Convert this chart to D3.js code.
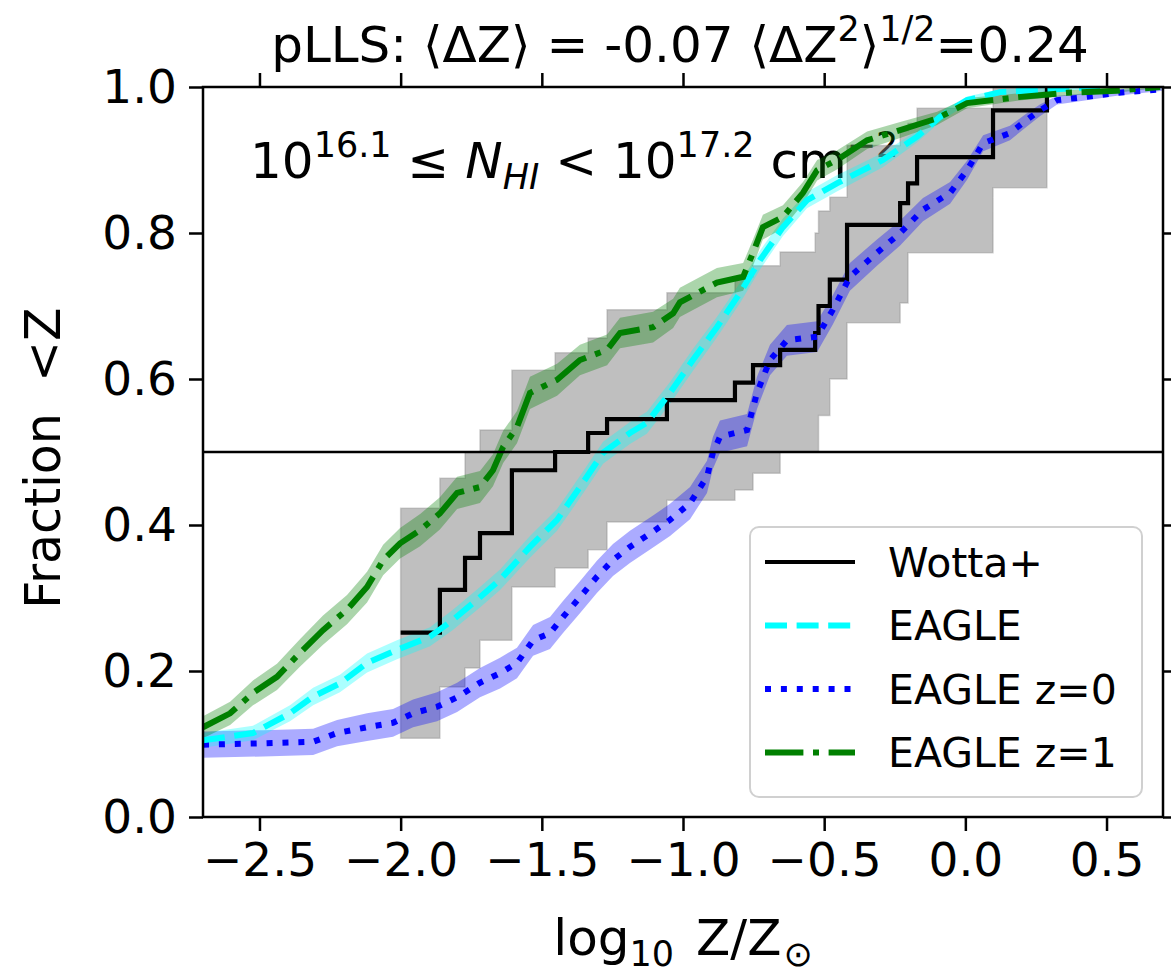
<!DOCTYPE html>
<html>
<head>
<meta charset="utf-8">
<script src="https://cdn.jsdelivr.net/npm/d3@7"></script>
<style>
  body { margin: 0; background: #fff; }
  svg text { font-family: "DejaVu Sans", sans-serif; fill: #000; }
</style>
</head>
<body>
<svg id="chart" width="1171" height="980"></svg>
<script>
// ---- Observed sample (Wotta+): step CDF with its uncertainty envelope ----
const wottaX  = [-2.0, -1.861, -1.772, -1.719, -1.606, -1.453, -1.336, -1.269, -1.057, -0.816, -0.752, -0.656, -0.532, -0.52, -0.48, -0.419, -0.231, -0.203, -0.171, 0.098, 0.289];
const wottaY  = [0.2525, 0.311, 0.355, 0.389, 0.475, 0.5, 0.526, 0.545, 0.571, 0.595, 0.619, 0.640, 0.663, 0.70, 0.736, 0.811, 0.841, 0.868, 0.904, 0.968, 1.0];
const wottaLo = [0.108, 0.178, 0.204, 0.242, 0.315, 0.341, 0.366, 0.404, 0.434, 0.448, 0.471, 0.5, 0.5, 0.55, 0.60, 0.677, 0.704, 0.773, 0.773, 0.862, 1.0];
const wottaHi = [0.423, 0.464, 0.5, 0.53, 0.612, 0.636, 0.656, 0.695, 0.718, 0.74, 0.755, 0.774, 0.80, 0.83, 0.849, 0.92, 0.94, 0.95, 0.971, 1.0, 1.0];

// ---- EAGLE (matched redshift) ----
const eagleX   = [-2.7, -2.523, -2.392, -2.310, -2.215, -2.119, -2.013, -1.896, -1.815, -1.719, -1.648, -1.542, -1.446, -1.365, -1.283, -1.188, -1.128, -1.046, -0.965, -0.880, -0.798, -0.727, -0.646, -0.561, -0.455, -0.292, -0.171, -0.090, 0.006, 0.123, 0.477];
const eagleY   = [0.105, 0.115, 0.142, 0.165, 0.183, 0.211, 0.229, 0.247, 0.270, 0.301, 0.325, 0.370, 0.407, 0.452, 0.499, 0.526, 0.540, 0.581, 0.626, 0.671, 0.718, 0.763, 0.808, 0.845, 0.868, 0.900, 0.932, 0.959, 0.982, 0.993, 1.0];
const eagleErr = [0.010, 0.010, 0.011, 0.012, 0.012, 0.013, 0.013, 0.013, 0.014, 0.014, 0.014, 0.015, 0.015, 0.015, 0.015, 0.015, 0.015, 0.015, 0.015, 0.014, 0.014, 0.013, 0.012, 0.011, 0.011, 0.010, 0.008, 0.007, 0.005, 0.004, 0.002];

// ---- EAGLE z=0 ----
const eagleZ0X   = [-2.7, -2.487, -2.310, -2.225, -2.119, -2.027, -1.956, -1.871, -1.800, -1.719, -1.648, -1.588, -1.531, -1.471, -1.425, -1.365, -1.305, -1.248, -1.188, -1.110, -1.046, -0.975, -0.915, -0.894, -0.869, -0.773, -0.738, -0.692, -0.632, -0.525, -0.469, -0.409, -0.313, -0.231, -0.150, -0.054, 0.006, 0.063, 0.158, 0.218, 0.264, 0.325, 0.417, 0.537, 0.70];
const eagleZ0Y   = [0.099, 0.101, 0.103, 0.115, 0.123, 0.129, 0.142, 0.151, 0.164, 0.184, 0.197, 0.211, 0.242, 0.252, 0.274, 0.301, 0.329, 0.352, 0.370, 0.390, 0.407, 0.430, 0.466, 0.499, 0.521, 0.530, 0.581, 0.626, 0.653, 0.658, 0.695, 0.740, 0.773, 0.800, 0.832, 0.855, 0.886, 0.923, 0.937, 0.955, 0.968, 0.982, 0.986, 0.992, 0.997];
const eagleZ0Err = [0.018, 0.018, 0.018, 0.018, 0.019, 0.019, 0.019, 0.020, 0.020, 0.020, 0.021, 0.021, 0.021, 0.022, 0.022, 0.022, 0.022, 0.022, 0.022, 0.022, 0.022, 0.022, 0.022, 0.022, 0.022, 0.022, 0.022, 0.021, 0.021, 0.021, 0.020, 0.019, 0.018, 0.017, 0.016, 0.015, 0.013, 0.011, 0.010, 0.009, 0.008, 0.006, 0.005, 0.004, 0.002];

// ---- EAGLE z=1 ----
const eagleZ1X   = [-2.7, -2.604, -2.523, -2.438, -2.356, -2.275, -2.190, -2.119, -2.062, -2.002, -1.931, -1.861, -1.800, -1.719, -1.673, -1.637, -1.588, -1.542, -1.446, -1.365, -1.269, -1.223, -1.106, -1.035, -1.011, -0.880, -0.787, -0.752, -0.717, -0.646, -0.575, -0.525, -0.455, -0.348, -0.231, -0.100, 0.006, 0.183, 0.360, 0.537, 0.69];
const eagleZ1Y   = [0.123, 0.142, 0.170, 0.192, 0.225, 0.256, 0.284, 0.315, 0.352, 0.375, 0.393, 0.416, 0.444, 0.452, 0.475, 0.507, 0.534, 0.581, 0.599, 0.626, 0.640, 0.663, 0.671, 0.690, 0.705, 0.732, 0.740, 0.773, 0.808, 0.822, 0.855, 0.886, 0.900, 0.927, 0.941, 0.957, 0.978, 0.986, 0.992, 0.995, 1.0];
const eagleZ1Err = [0.015, 0.016, 0.017, 0.018, 0.019, 0.020, 0.020, 0.021, 0.021, 0.021, 0.022, 0.022, 0.022, 0.022, 0.022, 0.022, 0.022, 0.022, 0.022, 0.021, 0.021, 0.021, 0.021, 0.020, 0.020, 0.020, 0.019, 0.018, 0.017, 0.016, 0.015, 0.014, 0.013, 0.012, 0.011, 0.009, 0.007, 0.005, 0.004, 0.003, 0.001];

// ---- Axes ----
const xDomain = [-2.7, 0.7];
const yDomain = [0, 1];
const xTicks = [-2.5, -2.0, -1.5, -1.0, -0.5, 0.0, 0.5];
const yTicks = [0.0, 0.2, 0.4, 0.6, 0.8, 1.0];
const medianLevel = 0.5;

const legendLabels = ["Wotta+", "EAGLE", "EAGLE z=0", "EAGLE z=1"];

// ---------------------------------------------------------------------------
const plot = { left: 203, right: 1163, top: 87, bottom: 817 };
const FS = 47;

const svg = d3.select("#chart");
const x = d3.scaleLinear(xDomain, [plot.left, plot.right]);
const y = d3.scaleLinear(yDomain, [plot.bottom, plot.top]);

svg.append("defs").append("clipPath").attr("id", "plotclip")
  .append("rect")
  .attr("x", plot.left).attr("y", plot.top)
  .attr("width", plot.right - plot.left).attr("height", plot.bottom - plot.top);

// rich text helper: parts = [{t, s:'sup'|'sub'|undefined, i:bool, dx}]
function richText(g, parts, fs, attrs) {
  const t = g.append("text");
  Object.entries(attrs).forEach(([k, v]) => t.attr(k, v));
  t.style("font-size", fs + "px").style("white-space", "pre");
  let shift = 0;
  parts.forEach(p => {
    const ts = t.append("tspan").text(p.t);
    let target = 0, size = fs;
    if (p.s === "sup") { target = -0.42 * fs; size = 0.7 * fs; }
    if (p.s === "sub") { target = 0.22 * fs; size = 0.7 * fs; }
    ts.attr("dy", target - shift).style("font-size", size + "px");
    if (p.dx) ts.attr("dx", p.dx);
    if (p.i) ts.style("font-style", "italic");
    shift = target;
  });
  return t;
}

// annotation text (under the curves)
richText(svg, [
  { t: "10" }, { t: "16.1", s: "sup" }, { t: " ≤ " }, { t: "N", i: true }, { t: "HI", s: "sub", i: true },
  { t: " < 10" }, { t: "17.2", s: "sup" }, { t: " cm" }, { t: "−2", s: "sup" }
], 50, { x: 250, y: 178 });

const layer = svg.append("g").attr("clip-path", "url(#plotclip)");

// uncertainty envelope of the observed sample
const wottaPts = wottaX.map((v, i) => ({ x: v, y: wottaY[i], lo: wottaLo[i], hi: wottaHi[i] }));
layer.append("path")
  .datum(wottaPts)
  .attr("d", d3.area().curve(d3.curveStepAfter).x(d => x(d.x)).y0(d => y(d.lo)).y1(d => y(d.hi)))
  .attr("fill", "#808080").attr("fill-opacity", 0.5)
  .attr("stroke", "#808080").attr("stroke-opacity", 0.35).attr("stroke-width", 1.5);

const sims = [
  { xs: eagleZ0X, ys: eagleZ0Y, es: eagleZ0Err, color: "#0000ff", dash: "6,9.9" },
  { xs: eagleX,   ys: eagleY,   es: eagleErr,   color: "#00ffff", dash: "22,9.6" },
  { xs: eagleZ1X, ys: eagleZ1Y, es: eagleZ1Err, color: "#008000", dash: "38.4,9.6,6,9.6" }
];

sims.forEach(s => {
  const pts = s.xs.map((v, i) => ({ x: v, y: s.ys[i], e: s.es[i] }));
  s.pts = pts;
  layer.append("path")
    .datum(pts)
    .attr("d", d3.area().x(d => x(d.x)).y0(d => y(d.y - d.e)).y1(d => y(d.y + d.e)))
    .attr("fill", s.color).attr("fill-opacity", 0.33);
});

// observed step CDF
layer.append("path")
  .datum(wottaPts)
  .attr("d", d3.line().curve(d3.curveStepAfter).x(d => x(d.x)).y(d => y(d.y)))
  .attr("fill", "none").attr("stroke", "#000").attr("stroke-width", 4.2);

const simLine = d3.line().x(d => x(d.x)).y(d => y(d.y));
sims.forEach(s => {
  layer.append("path")
    .datum(s.pts)
    .attr("d", simLine)
    .attr("fill", "none").attr("stroke", s.color)
    .attr("stroke-width", 6).attr("stroke-dasharray", s.dash);
});

// median reference line
svg.append("line")
  .attr("x1", plot.left).attr("x2", plot.right)
  .attr("y1", y(medianLevel)).attr("y2", y(medianLevel))
  .attr("stroke", "#000").attr("stroke-width", 2.5);

// axes (ticks on all four sides, labels left and bottom)
const fmt = d3.format(".1f");
const styleAxis = g => {
  g.select(".domain").remove();
  g.selectAll(".tick line").attr("stroke", "#000").attr("stroke-width", 2.5);
  g.selectAll(".tick text").style("font-size", FS + "px").attr("fill", "#000");
};
svg.append("g").attr("transform", `translate(0,${plot.bottom})`)
  .call(d3.axisBottom(x).tickValues(xTicks).tickFormat(fmt).tickSize(14).tickPadding(12))
  .call(styleAxis);
svg.append("g").attr("transform", `translate(0,${plot.top})`)
  .call(d3.axisTop(x).tickValues(xTicks).tickFormat("").tickSize(14))
  .call(styleAxis);
svg.append("g").attr("transform", `translate(${plot.left},0)`)
  .call(d3.axisLeft(y).tickValues(yTicks).tickFormat(fmt).tickSize(14).tickPadding(12))
  .call(styleAxis);
svg.append("g").attr("transform", `translate(${plot.right},0)`)
  .call(d3.axisRight(y).tickValues(yTicks).tickFormat("").tickSize(14))
  .call(styleAxis);

// frame
svg.append("rect")
  .attr("x", plot.left).attr("y", plot.top)
  .attr("width", plot.right - plot.left).attr("height", plot.bottom - plot.top)
  .attr("fill", "none").attr("stroke", "#000").attr("stroke-width", 2.5);

// legend
const lg = svg.append("g");
lg.append("rect")
  .attr("x", 750).attr("y", 527).attr("width", 392).attr("height", 270).attr("rx", 9)
  .attr("fill", "#fff").attr("fill-opacity", 0.8)
  .attr("stroke", "#d0d0d0").attr("stroke-width", 2);
const legendStyles = [
  { color: "#000", dash: null, w: 4.2 },
  { color: "#00ffff", dash: "22,9.6", w: 6 },
  { color: "#0000ff", dash: "6,9.9", w: 6 },
  { color: "#008000", dash: "38.4,9.6,6,9.6", w: 6 }
];
legendLabels.forEach((lab, i) => {
  const cy = 562 + i * 63.5;
  const st = legendStyles[i];
  lg.append("line").attr("x1", 765).attr("x2", 855).attr("y1", cy).attr("y2", cy)
    .attr("stroke", st.color).attr("stroke-width", st.w)
    .attr("stroke-dasharray", st.dash);
  lg.append("text").attr("x", 888).attr("y", cy).attr("dy", "0.36em")
    .style("font-size", "41px").text(lab);
});

// title
richText(svg, [
  { t: "pLLS: ⟨ΔZ⟩ = -0.07 ⟨ΔZ" }, { t: "2", s: "sup" }, { t: "⟩" }, { t: "1/2", s: "sup" }, { t: "=0.24" }
], 50, { x: (plot.left + plot.right) / 2 - 3, y: 62, "text-anchor": "middle" });

// axis labels
richText(svg, [{ t: "log" }, { t: "10", s: "sub" }, { t: "Z/Z", dx: 22 }, { t: "⊙", s: "sub", dx: 2 }], 50,
  { x: (plot.left + plot.right) / 2, y: 955, "text-anchor": "middle" });

svg.append("text")
  .attr("transform", `translate(60,${(plot.top + plot.bottom) / 2 + 6}) rotate(-90)`)
  .attr("text-anchor", "middle")
  .style("font-size", "49px").style("white-space", "pre")
  .text("Fraction  <Z");
</script>
</body>
</html>
